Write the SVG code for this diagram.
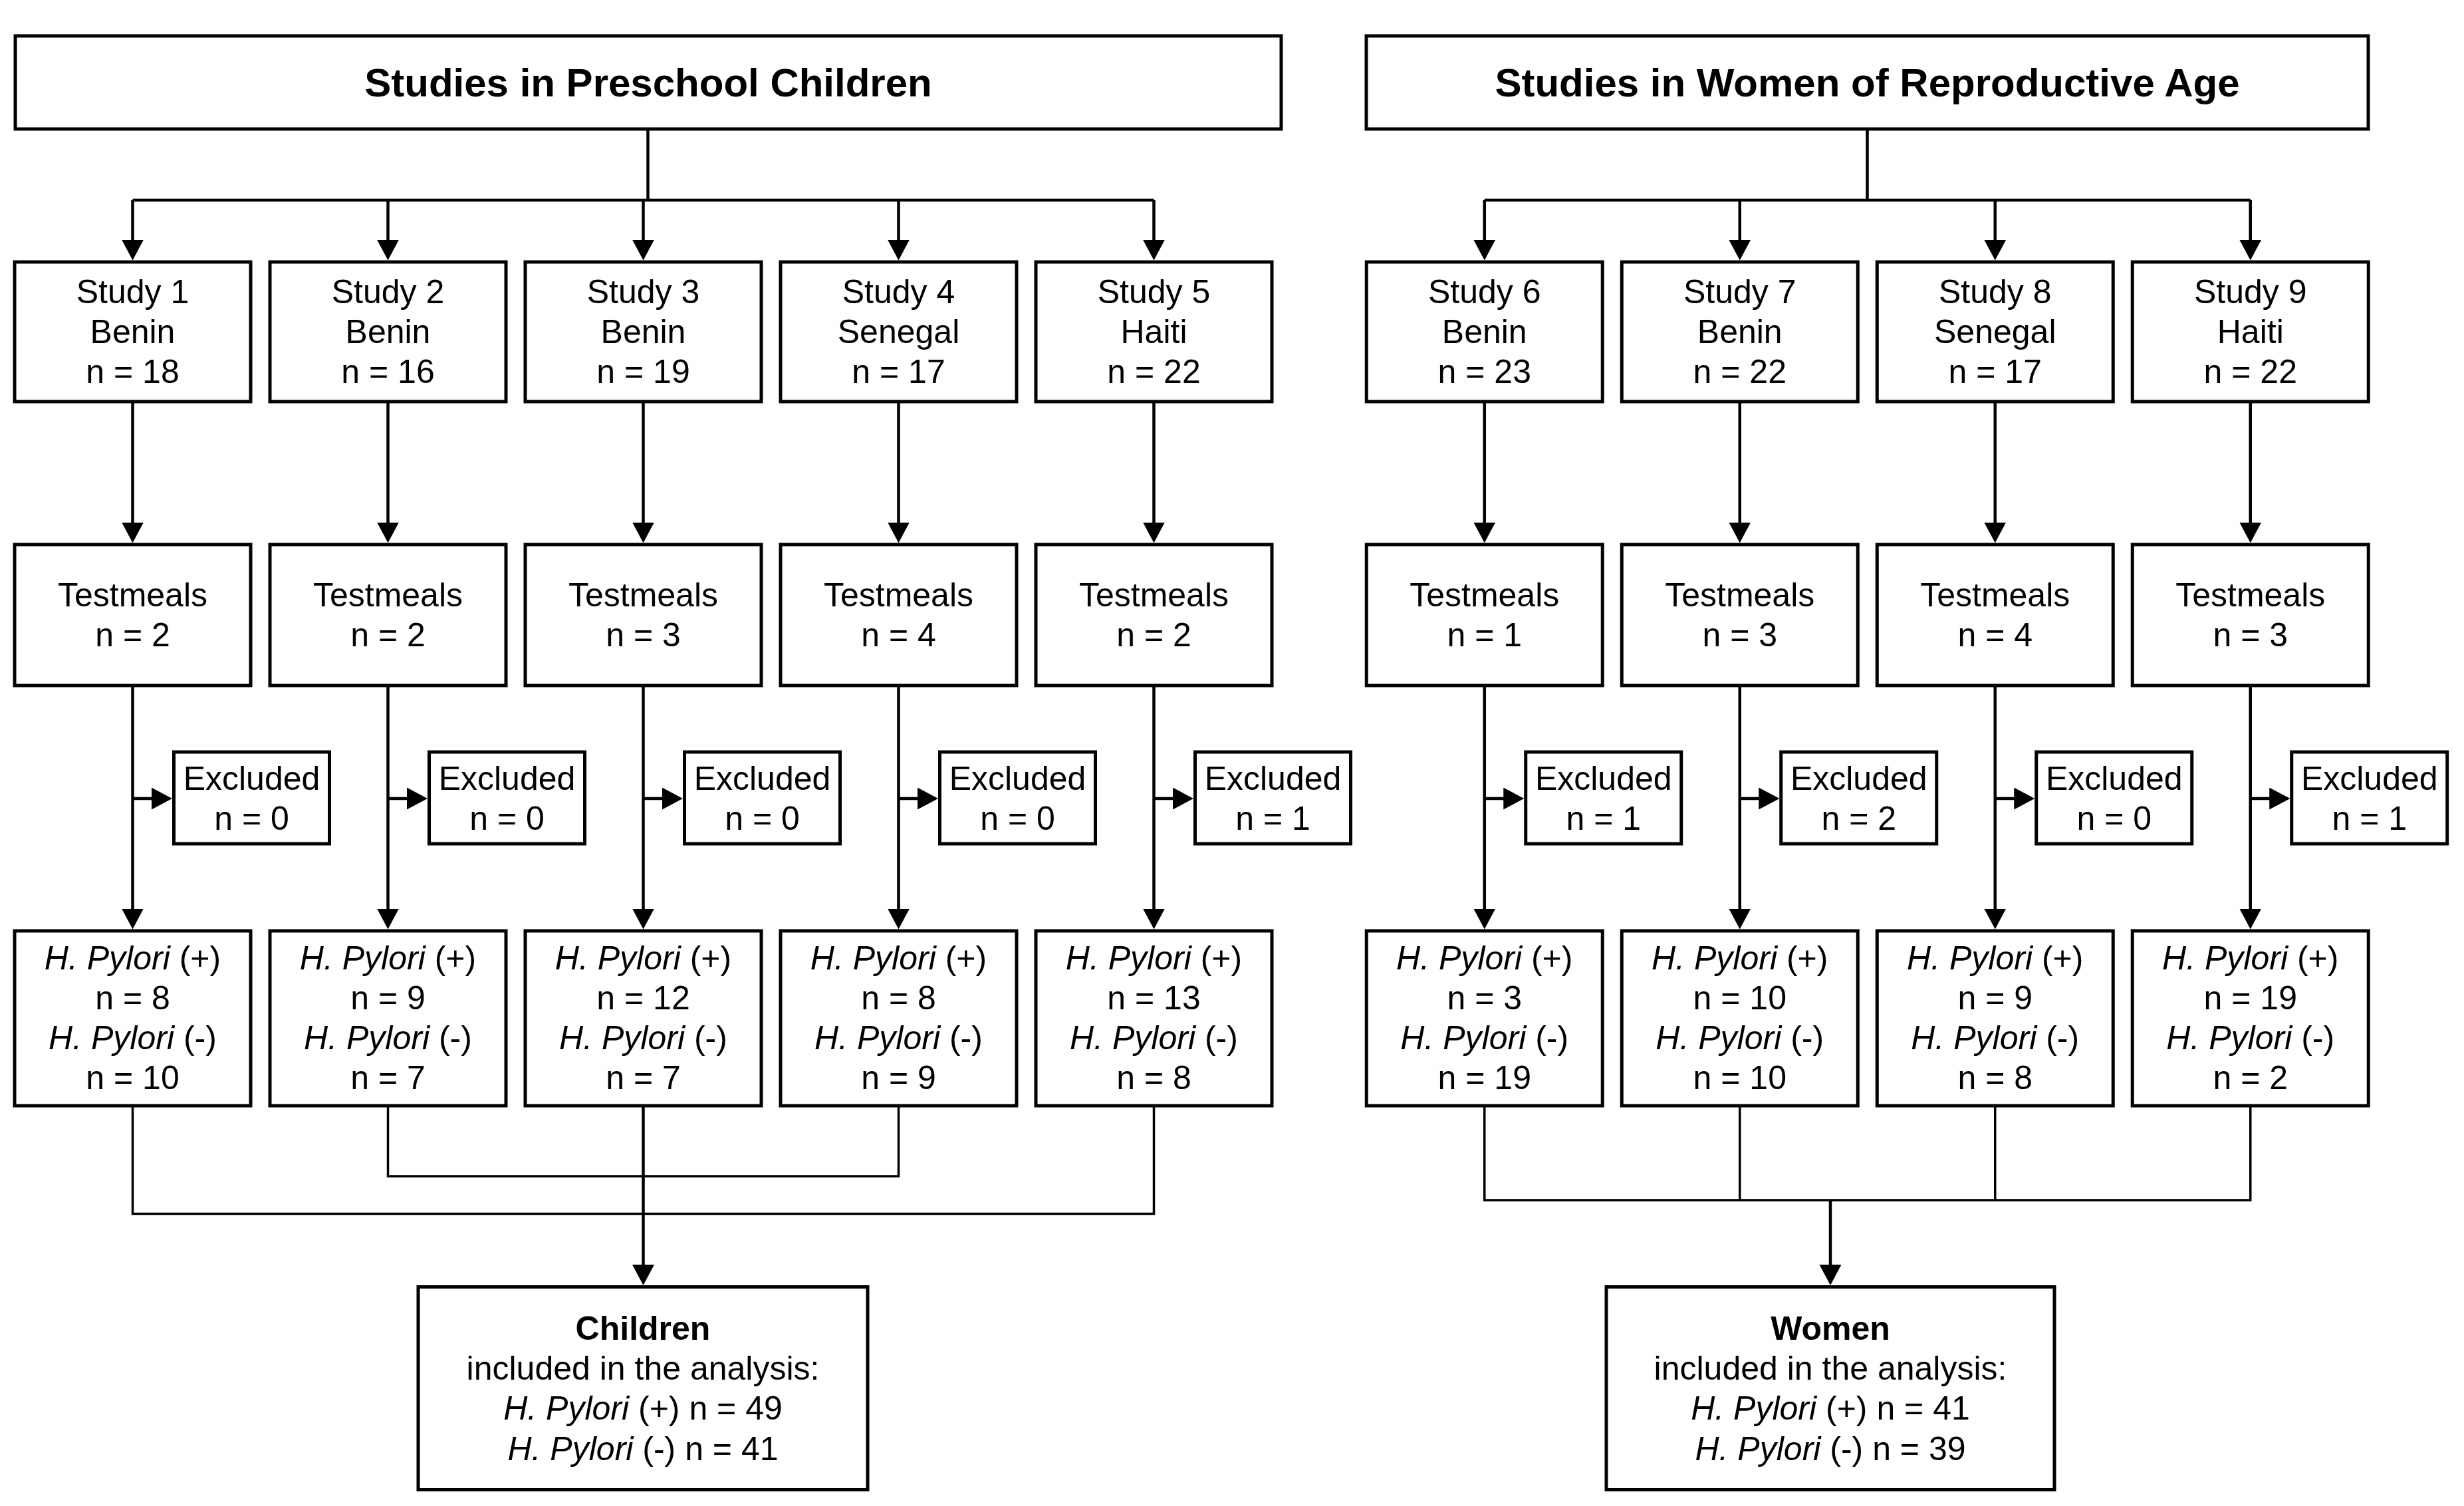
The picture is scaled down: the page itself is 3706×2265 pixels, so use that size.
<svg xmlns="http://www.w3.org/2000/svg" width="3706" height="2265" viewBox="0 0 3706 2265">
<style>
rect.b{fill:#fff;stroke:#000;stroke-width:5}
text{font-family:"Liberation Sans",Arial,sans-serif;font-size:50px;fill:#000;text-anchor:middle}
text.t{font-size:60px;font-weight:bold}
.bold{font-weight:bold}
.i{font-style:italic}
#connectors path{fill:none;stroke:#000;stroke-width:4.5}
#connectors path.m{stroke-width:3.5}
</style>
<defs>
<marker id="ah" markerUnits="userSpaceOnUse" markerWidth="31" markerHeight="33" viewBox="0 0 31 33" refX="21" refY="16.5" orient="auto"><path d="M0,0 L31,16.5 L0,33 z" fill="#000"/></marker>
</defs>
<rect width="3706" height="2265" fill="#fff"/>
<g id="connectors">
<path d="M974.5,194 V301"/>
<path d="M199.5,301 H1735.5"/>
<path d="M199.5,301 V381.5" marker-end="url(#ah)"/>
<path d="M583.5,301 V381.5" marker-end="url(#ah)"/>
<path d="M967.5,301 V381.5" marker-end="url(#ah)"/>
<path d="M1351.5,301 V381.5" marker-end="url(#ah)"/>
<path d="M1735.5,301 V381.5" marker-end="url(#ah)"/>
<path d="M199.5,604 V806.5" marker-end="url(#ah)"/>
<path d="M583.5,604 V806.5" marker-end="url(#ah)"/>
<path d="M967.5,604 V806.5" marker-end="url(#ah)"/>
<path d="M1351.5,604 V806.5" marker-end="url(#ah)"/>
<path d="M1735.5,604 V806.5" marker-end="url(#ah)"/>
<path d="M199.5,1031 V1387.5" marker-end="url(#ah)"/>
<path d="M583.5,1031 V1387.5" marker-end="url(#ah)"/>
<path d="M967.5,1031 V1387.5" marker-end="url(#ah)"/>
<path d="M1351.5,1031 V1387.5" marker-end="url(#ah)"/>
<path d="M1735.5,1031 V1387.5" marker-end="url(#ah)"/>
<path d="M199.5,1201 H249" marker-end="url(#ah)"/>
<path d="M583.5,1201 H633" marker-end="url(#ah)"/>
<path d="M967.5,1201 H1017" marker-end="url(#ah)"/>
<path d="M1351.5,1201 H1401" marker-end="url(#ah)"/>
<path d="M1735.5,1201 H1785" marker-end="url(#ah)"/>
<path class="m" d="M199.5,1663 V1825.5 H1735.5 V1663"/>
<path class="m" d="M583.5,1663 V1769 H1351.5 V1663"/>
<path d="M967.5,1663 V1923" marker-end="url(#ah)"/>
<path d="M2808.5,194 V301"/>
<path d="M2232.75,301 H3384.75"/>
<path d="M2232.75,301 V381.5" marker-end="url(#ah)"/>
<path d="M2616.75,301 V381.5" marker-end="url(#ah)"/>
<path d="M3000.75,301 V381.5" marker-end="url(#ah)"/>
<path d="M3384.75,301 V381.5" marker-end="url(#ah)"/>
<path d="M2232.75,604 V806.5" marker-end="url(#ah)"/>
<path d="M2616.75,604 V806.5" marker-end="url(#ah)"/>
<path d="M3000.75,604 V806.5" marker-end="url(#ah)"/>
<path d="M3384.75,604 V806.5" marker-end="url(#ah)"/>
<path d="M2232.75,1031 V1387.5" marker-end="url(#ah)"/>
<path d="M2616.75,1031 V1387.5" marker-end="url(#ah)"/>
<path d="M3000.75,1031 V1387.5" marker-end="url(#ah)"/>
<path d="M3384.75,1031 V1387.5" marker-end="url(#ah)"/>
<path d="M2232.75,1201 H2282.25" marker-end="url(#ah)"/>
<path d="M2616.75,1201 H2666.25" marker-end="url(#ah)"/>
<path d="M3000.75,1201 H3050.25" marker-end="url(#ah)"/>
<path d="M3384.75,1201 H3434.25" marker-end="url(#ah)"/>
<path class="m" d="M2232.75,1663 V1805 H3384.75 V1663"/>
<path class="m" d="M2616.75,1663 V1805"/>
<path class="m" d="M3000.75,1663 V1805"/>
<path d="M2753,1805 V1923" marker-end="url(#ah)"/>
</g>

<g id="title-children"><rect class="b" x="23" y="54" width="1904" height="140"/><text class="t" x="975" y="145">Studies in Preschool Children</text></g>
<g id="title-women"><rect class="b" x="2055" y="54" width="1507" height="140"/><text class="t" x="2808.5" y="145">Studies in Women of Reproductive Age</text></g>

<g id="study1"><rect class="b" x="22" y="394" width="355" height="210"/><text x="199.5" y="456">Study 1</text><text x="199.5" y="516">Benin</text><text x="199.5" y="576">n = 18</text></g>
<g id="study2"><rect class="b" x="406" y="394" width="355" height="210"/><text x="583.5" y="456">Study 2</text><text x="583.5" y="516">Benin</text><text x="583.5" y="576">n = 16</text></g>
<g id="study3"><rect class="b" x="790" y="394" width="355" height="210"/><text x="967.5" y="456">Study 3</text><text x="967.5" y="516">Benin</text><text x="967.5" y="576">n = 19</text></g>
<g id="study4"><rect class="b" x="1174" y="394" width="355" height="210"/><text x="1351.5" y="456">Study 4</text><text x="1351.5" y="516">Senegal</text><text x="1351.5" y="576">n = 17</text></g>
<g id="study5"><rect class="b" x="1558" y="394" width="355" height="210"/><text x="1735.5" y="456">Study 5</text><text x="1735.5" y="516">Haiti</text><text x="1735.5" y="576">n = 22</text></g>
<g id="study6"><rect class="b" x="2055.25" y="394" width="355" height="210"/><text x="2232.75" y="456">Study 6</text><text x="2232.75" y="516">Benin</text><text x="2232.75" y="576">n = 23</text></g>
<g id="study7"><rect class="b" x="2439.25" y="394" width="355" height="210"/><text x="2616.75" y="456">Study 7</text><text x="2616.75" y="516">Benin</text><text x="2616.75" y="576">n = 22</text></g>
<g id="study8"><rect class="b" x="2823.25" y="394" width="355" height="210"/><text x="3000.75" y="456">Study 8</text><text x="3000.75" y="516">Senegal</text><text x="3000.75" y="576">n = 17</text></g>
<g id="study9"><rect class="b" x="3207.25" y="394" width="355" height="210"/><text x="3384.75" y="456">Study 9</text><text x="3384.75" y="516">Haiti</text><text x="3384.75" y="576">n = 22</text></g>

<g id="testmeals1"><rect class="b" x="22" y="819" width="355" height="212"/><text x="199.5" y="912">Testmeals</text><text x="199.5" y="972">n = 2</text></g>
<g id="testmeals2"><rect class="b" x="406" y="819" width="355" height="212"/><text x="583.5" y="912">Testmeals</text><text x="583.5" y="972">n = 2</text></g>
<g id="testmeals3"><rect class="b" x="790" y="819" width="355" height="212"/><text x="967.5" y="912">Testmeals</text><text x="967.5" y="972">n = 3</text></g>
<g id="testmeals4"><rect class="b" x="1174" y="819" width="355" height="212"/><text x="1351.5" y="912">Testmeals</text><text x="1351.5" y="972">n = 4</text></g>
<g id="testmeals5"><rect class="b" x="1558" y="819" width="355" height="212"/><text x="1735.5" y="912">Testmeals</text><text x="1735.5" y="972">n = 2</text></g>
<g id="testmeals6"><rect class="b" x="2055.25" y="819" width="355" height="212"/><text x="2232.75" y="912">Testmeals</text><text x="2232.75" y="972">n = 1</text></g>
<g id="testmeals7"><rect class="b" x="2439.25" y="819" width="355" height="212"/><text x="2616.75" y="912">Testmeals</text><text x="2616.75" y="972">n = 3</text></g>
<g id="testmeals8"><rect class="b" x="2823.25" y="819" width="355" height="212"/><text x="3000.75" y="912">Testmeals</text><text x="3000.75" y="972">n = 4</text></g>
<g id="testmeals9"><rect class="b" x="3207.25" y="819" width="355" height="212"/><text x="3384.75" y="912">Testmeals</text><text x="3384.75" y="972">n = 3</text></g>

<g id="excluded1"><rect class="b" x="261.5" y="1131" width="234" height="138"/><text x="378.5" y="1188">Excluded</text><text x="378.5" y="1248">n = 0</text></g>
<g id="excluded2"><rect class="b" x="645.5" y="1131" width="234" height="138"/><text x="762.5" y="1188">Excluded</text><text x="762.5" y="1248">n = 0</text></g>
<g id="excluded3"><rect class="b" x="1029.5" y="1131" width="234" height="138"/><text x="1146.5" y="1188">Excluded</text><text x="1146.5" y="1248">n = 0</text></g>
<g id="excluded4"><rect class="b" x="1413.5" y="1131" width="234" height="138"/><text x="1530.5" y="1188">Excluded</text><text x="1530.5" y="1248">n = 0</text></g>
<g id="excluded5"><rect class="b" x="1797.5" y="1131" width="234" height="138"/><text x="1914.5" y="1188">Excluded</text><text x="1914.5" y="1248">n = 1</text></g>
<g id="excluded6"><rect class="b" x="2294.75" y="1131" width="234" height="138"/><text x="2411.75" y="1188">Excluded</text><text x="2411.75" y="1248">n = 1</text></g>
<g id="excluded7"><rect class="b" x="2678.75" y="1131" width="234" height="138"/><text x="2795.75" y="1188">Excluded</text><text x="2795.75" y="1248">n = 2</text></g>
<g id="excluded8"><rect class="b" x="3062.75" y="1131" width="234" height="138"/><text x="3179.75" y="1188">Excluded</text><text x="3179.75" y="1248">n = 0</text></g>
<g id="excluded9"><rect class="b" x="3446.75" y="1131" width="234" height="138"/><text x="3563.75" y="1188">Excluded</text><text x="3563.75" y="1248">n = 1</text></g>

<g id="hp1"><rect class="b" x="22" y="1400" width="355" height="263"/><text x="199.5" y="1458"><tspan class="i">H. Pylori</tspan> (+)</text><text x="199.5" y="1518">n = 8</text><text x="199.5" y="1578"><tspan class="i">H. Pylori</tspan> (-)</text><text x="199.5" y="1638">n = 10</text></g>
<g id="hp2"><rect class="b" x="406" y="1400" width="355" height="263"/><text x="583.5" y="1458"><tspan class="i">H. Pylori</tspan> (+)</text><text x="583.5" y="1518">n = 9</text><text x="583.5" y="1578"><tspan class="i">H. Pylori</tspan> (-)</text><text x="583.5" y="1638">n = 7</text></g>
<g id="hp3"><rect class="b" x="790" y="1400" width="355" height="263"/><text x="967.5" y="1458"><tspan class="i">H. Pylori</tspan> (+)</text><text x="967.5" y="1518">n = 12</text><text x="967.5" y="1578"><tspan class="i">H. Pylori</tspan> (-)</text><text x="967.5" y="1638">n = 7</text></g>
<g id="hp4"><rect class="b" x="1174" y="1400" width="355" height="263"/><text x="1351.5" y="1458"><tspan class="i">H. Pylori</tspan> (+)</text><text x="1351.5" y="1518">n = 8</text><text x="1351.5" y="1578"><tspan class="i">H. Pylori</tspan> (-)</text><text x="1351.5" y="1638">n = 9</text></g>
<g id="hp5"><rect class="b" x="1558" y="1400" width="355" height="263"/><text x="1735.5" y="1458"><tspan class="i">H. Pylori</tspan> (+)</text><text x="1735.5" y="1518">n = 13</text><text x="1735.5" y="1578"><tspan class="i">H. Pylori</tspan> (-)</text><text x="1735.5" y="1638">n = 8</text></g>
<g id="hp6"><rect class="b" x="2055.25" y="1400" width="355" height="263"/><text x="2232.75" y="1458"><tspan class="i">H. Pylori</tspan> (+)</text><text x="2232.75" y="1518">n = 3</text><text x="2232.75" y="1578"><tspan class="i">H. Pylori</tspan> (-)</text><text x="2232.75" y="1638">n = 19</text></g>
<g id="hp7"><rect class="b" x="2439.25" y="1400" width="355" height="263"/><text x="2616.75" y="1458"><tspan class="i">H. Pylori</tspan> (+)</text><text x="2616.75" y="1518">n = 10</text><text x="2616.75" y="1578"><tspan class="i">H. Pylori</tspan> (-)</text><text x="2616.75" y="1638">n = 10</text></g>
<g id="hp8"><rect class="b" x="2823.25" y="1400" width="355" height="263"/><text x="3000.75" y="1458"><tspan class="i">H. Pylori</tspan> (+)</text><text x="3000.75" y="1518">n = 9</text><text x="3000.75" y="1578"><tspan class="i">H. Pylori</tspan> (-)</text><text x="3000.75" y="1638">n = 8</text></g>
<g id="hp9"><rect class="b" x="3207.25" y="1400" width="355" height="263"/><text x="3384.75" y="1458"><tspan class="i">H. Pylori</tspan> (+)</text><text x="3384.75" y="1518">n = 19</text><text x="3384.75" y="1578"><tspan class="i">H. Pylori</tspan> (-)</text><text x="3384.75" y="1638">n = 2</text></g>

<g id="children-total"><rect class="b" x="629" y="1935.5" width="676" height="305"/><text class="bold" x="967" y="2015">Children</text><text x="967" y="2075">included in the analysis:</text><text x="967" y="2135"><tspan class="i">H. Pylori</tspan> (+) n = 49</text><text x="967" y="2196"><tspan class="i">H. Pylori</tspan> (-) n = 41</text></g>
<g id="women-total"><rect class="b" x="2416" y="1935.5" width="674" height="305"/><text class="bold" x="2753" y="2015">Women</text><text x="2753" y="2075">included in the analysis:</text><text x="2753" y="2135"><tspan class="i">H. Pylori</tspan> (+) n = 41</text><text x="2753" y="2196"><tspan class="i">H. Pylori</tspan> (-) n = 39</text></g>
</svg>
